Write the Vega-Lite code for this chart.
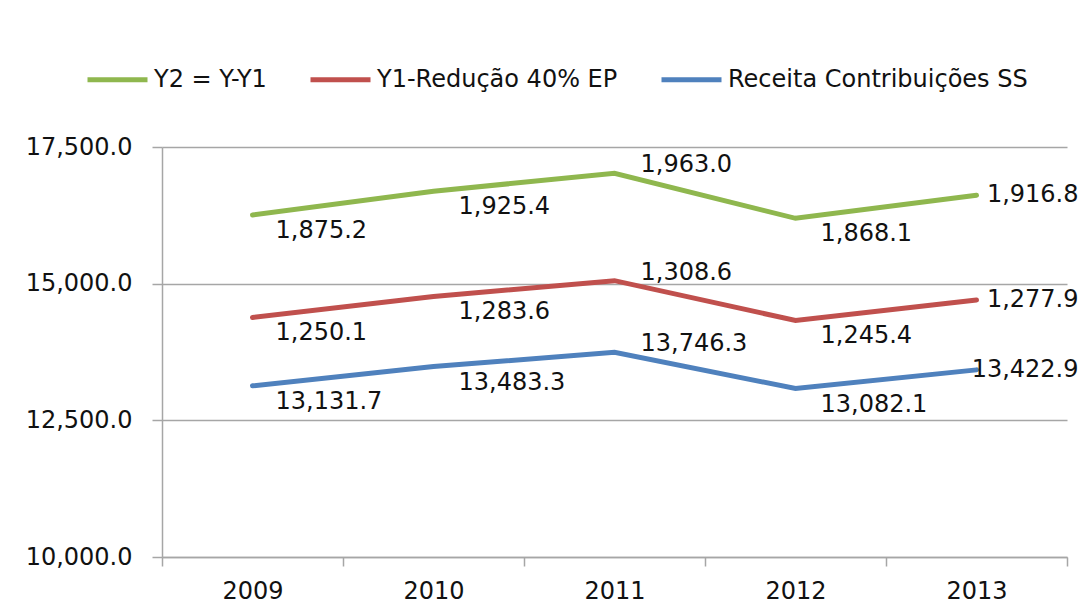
{
  "$schema": "https://vega.github.io/schema/vega-lite/v6.json",
  "width": 905,
  "height": 410,
  "autosize": {"type": "none"},
  "padding": {"left": 162, "top": 147, "right": 19, "bottom": 59},
  "background": "white",
  "config": {
    "font": "DejaVu Sans",
    "view": {"stroke": null},
    "axis": {"labelFont": "DejaVu Sans", "labelFontSize": 24, "labelColor": "#111111"}
  },
  "data": {
    "values": [
      {"year": "2009", "series": "Receita Contribuições SS", "value": 13131.7},
      {"year": "2010", "series": "Receita Contribuições SS", "value": 13483.3},
      {"year": "2011", "series": "Receita Contribuições SS", "value": 13746.3},
      {"year": "2012", "series": "Receita Contribuições SS", "value": 13082.1},
      {"year": "2013", "series": "Receita Contribuições SS", "value": 13422.9},
      {"year": "2009", "series": "Y1-Redução 40% EP", "value": 1250.1},
      {"year": "2010", "series": "Y1-Redução 40% EP", "value": 1283.6},
      {"year": "2011", "series": "Y1-Redução 40% EP", "value": 1308.6},
      {"year": "2012", "series": "Y1-Redução 40% EP", "value": 1245.4},
      {"year": "2013", "series": "Y1-Redução 40% EP", "value": 1277.9},
      {"year": "2009", "series": "Y2 = Y-Y1", "value": 1875.2},
      {"year": "2010", "series": "Y2 = Y-Y1", "value": 1925.4},
      {"year": "2011", "series": "Y2 = Y-Y1", "value": 1963.0},
      {"year": "2012", "series": "Y2 = Y-Y1", "value": 1868.1},
      {"year": "2013", "series": "Y2 = Y-Y1", "value": 1916.8}
    ]
  },
  "transform": [
    {"stack": "value", "groupby": ["year"], "sort": [{"field": "series", "order": "ascending"}], "as": ["v0", "v1"]}
  ],
  "encoding": {
    "x": {
      "field": "year", "type": "ordinal",
      "scale": {"type": "band", "paddingInner": 0, "paddingOuter": 0},
      "axis": {"title": null, "labelAngle": 0, "tickBand": "extent", "tickSize": 9, "tickColor": "#A6A6A6", "domainColor": "#A6A6A6", "domainWidth": 1.5, "tickWidth": 1.5, "labelPadding": 13, "grid": false}
    },
    "y": {
      "field": "v1", "type": "quantitative",
      "scale": {"domain": [10000, 17500], "zero": false, "nice": false},
      "axis": {"title": null, "values": [10000, 12500, 15000, 17500], "format": ",.1f", "grid": true, "gridColor": "#A6A6A6", "gridWidth": 1.5, "domainColor": "#A6A6A6", "domainWidth": 1.5, "tickColor": "#A6A6A6", "tickWidth": 1.5, "tickSize": 10, "labelPadding": 20}
    }
  },
  "layer": [
    {
      "mark": {"type": "line", "strokeWidth": 5, "strokeCap": "round"},
      "encoding": {
        "color": {
          "field": "series", "type": "nominal",
          "scale": {"domain": ["Y2 = Y-Y1", "Y1-Redução 40% EP", "Receita Contribuições SS"], "range": ["#8FB74E", "#C0504D", "#4F81BD"]},
          "legend": {
            "title": null, "orient": "none", "legendX": -77, "legendY": -100, "direction": "horizontal",
            "symbolType": "stroke", "symbolSize": 3600, "symbolStrokeWidth": 5, "labelOffset": 4,
            "columnPadding": 33, "labelFontSize": 24, "labelFont": "DejaVu Sans", "labelColor": "#111111", "labelLimit": 500
          }
        }
      }
    },
    {
      "transform": [{"filter": "datum.year == '2009'"}],
      "mark": {"type": "text", "align": "left", "baseline": "middle", "dx": 23, "dy": 16, "fontSize": 24, "color": "#111111"},
      "encoding": {"text": {"field": "value", "type": "quantitative", "format": ",.1f"}}
    },
    {
      "transform": [{"filter": "datum.year == '2010'"}],
      "mark": {"type": "text", "align": "left", "baseline": "middle", "dx": 25, "dy": 16, "fontSize": 24, "color": "#111111"},
      "encoding": {"text": {"field": "value", "type": "quantitative", "format": ",.1f"}}
    },
    {
      "transform": [{"filter": "datum.year == '2011'"}],
      "mark": {"type": "text", "align": "left", "baseline": "middle", "dx": 26, "dy": -8, "fontSize": 24, "color": "#111111"},
      "encoding": {"text": {"field": "value", "type": "quantitative", "format": ",.1f"}}
    },
    {
      "transform": [{"filter": "datum.year == '2012'"}],
      "mark": {"type": "text", "align": "left", "baseline": "middle", "dx": 25, "dy": 16, "fontSize": 24, "color": "#111111"},
      "encoding": {"text": {"field": "value", "type": "quantitative", "format": ",.1f"}}
    },
    {
      "transform": [{"filter": "datum.year == '2013'"}],
      "mark": {"type": "text", "align": "right", "baseline": "middle", "dx": 102, "dy": 0, "fontSize": 24, "color": "#111111"},
      "encoding": {"text": {"field": "value", "type": "quantitative", "format": ",.1f"}}
    }
  ]
}
